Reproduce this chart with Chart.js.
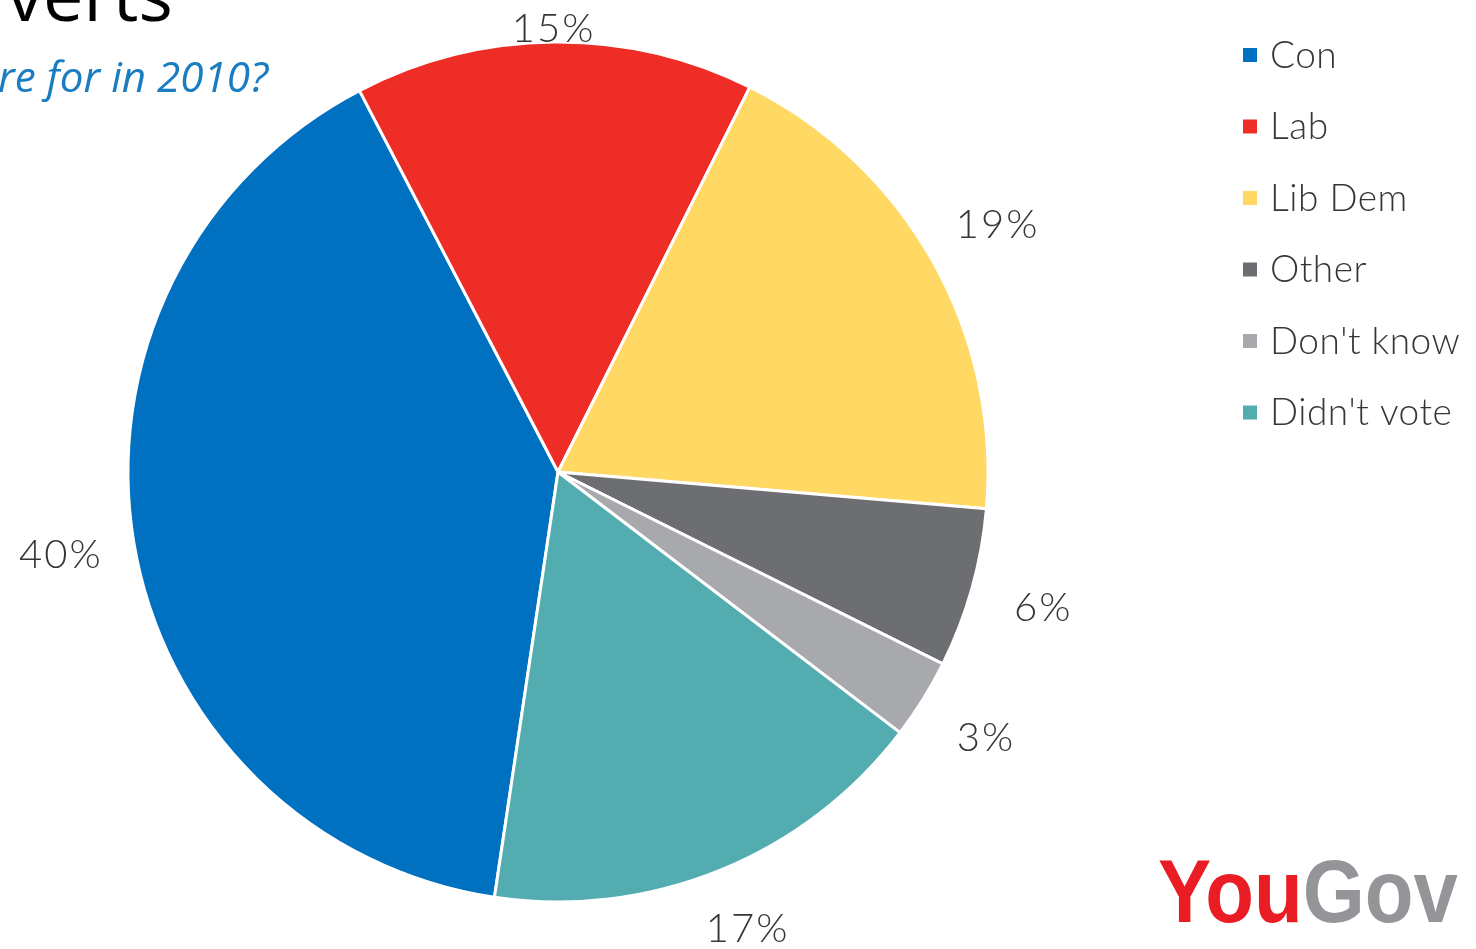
<!DOCTYPE html>
<html>
<head>
<meta charset="utf-8">
<script src="https://cdn.jsdelivr.net/npm/chart.js@4/dist/chart.umd.min.js"></script>
<style>
  html, body { margin: 0; padding: 0; background: #fff; }
  #wrap { width: 1476px; height: 949px; }
</style>
</head>
<body>
<div id="wrap"><canvas id="pie-chart" width="1476" height="949"></canvas></div>
<script>
const parties = ["Con", "Lab", "Lib Dem", "Other", "Don't know", "Didn't vote"];
const shares = [40, 15, 19, 6, 3, 17];
const sliceColors = ["#0070c0", "#ee2e26", "#ffd964", "#6d6e71", "#a7a9ac", "#53acb0"];

const titleText = "verts";
const subtitleText = "re for in 2010?";

const textGrey = "#363636";

// labels, legend, headings and logo drawn straight onto the canvas
const extras = {
    id: 'extras',
    afterDraw(chart) {
        const ctx = chart.ctx;
        const arcs = chart.getDatasetMeta(0).data;
        ctx.save();

        // percentage next to each slice
        ctx.font = '300 40px Lato';
        ctx.letterSpacing = '2px';
        ctx.fillStyle = textGrey;
        ctx.textAlign = 'center';
        ctx.textBaseline = 'middle';
        arcs.forEach((arc, i) => {
            const mid = (arc.startAngle + arc.endAngle) / 2;
            const r = arc.outerRadius + 74;
            const x = arc.x + Math.cos(mid) * r;
            let y = arc.y + Math.sin(mid) * r;
            y = Math.min(Math.max(y, 29), chart.height - 20);
            ctx.fillText(shares[i] + '%', x, y);
        });

        // legend
        ctx.textAlign = 'left';
        ctx.font = '300 37px Lato';
        ctx.letterSpacing = '0.5px';
        parties.forEach((name, i) => {
            const y = 55 + i * 71.5;
            ctx.fillStyle = sliceColors[i];
            ctx.fillRect(1243, y - 7, 14, 14);
            ctx.fillStyle = textGrey;
            ctx.fillText(name, 1270, y + 1);
        });
        ctx.letterSpacing = '0px';

        // heading, cut by the top edge
        ctx.textBaseline = 'alphabetic';
        ctx.fillStyle = '#000';
        ctx.font = '72px "Open Sans"';
        ctx.fillText(titleText, 7, 21);

        // question line
        ctx.fillStyle = '#1a7cc1';
        ctx.font = 'italic 42px "Open Sans"';
        const sw = ctx.measureText(subtitleText).width;
        ctx.save();
        ctx.translate(-2, 92);
        ctx.scale(270 / sw, 1);
        ctx.fillText(subtitleText, 0, 0);
        ctx.restore();

        // YouGov mark
        ctx.font = 'bold 89px "Liberation Sans"';
        const wYou = ctx.measureText('You').width;
        const wGov = ctx.measureText('Gov').width;
        const k = 300 / (wYou + wGov);
        ctx.save();
        ctx.translate(1158, 922);
        ctx.scale(k, 1);
        ctx.fillStyle = '#ea1c24';
        ctx.fillText('You', 0, 0);
        ctx.fillStyle = '#939598';
        ctx.fillText('Gov', wYou, 0);
        ctx.restore();

        ctx.restore();
    }
};

new Chart(document.getElementById("pie-chart"), {
    type: 'pie',
    data: {
        labels: parties,
        datasets: [
            {
                data: shares,
                backgroundColor: sliceColors,
                borderColor: '#ffffff',
                borderWidth: 3
            }
        ]
    },
    options: {
        responsive: false,
        animation: false,
        events: [],
        rotation: 188.5,
        radius: 430,
        layout: {
            padding: { left: 130, right: 490, top: 44, bottom: 49 }
        },
        plugins: {
            legend: { display: false },
            tooltip: { enabled: false }
        }
    },
    plugins: [extras]
});
</script>
</body>
</html>
